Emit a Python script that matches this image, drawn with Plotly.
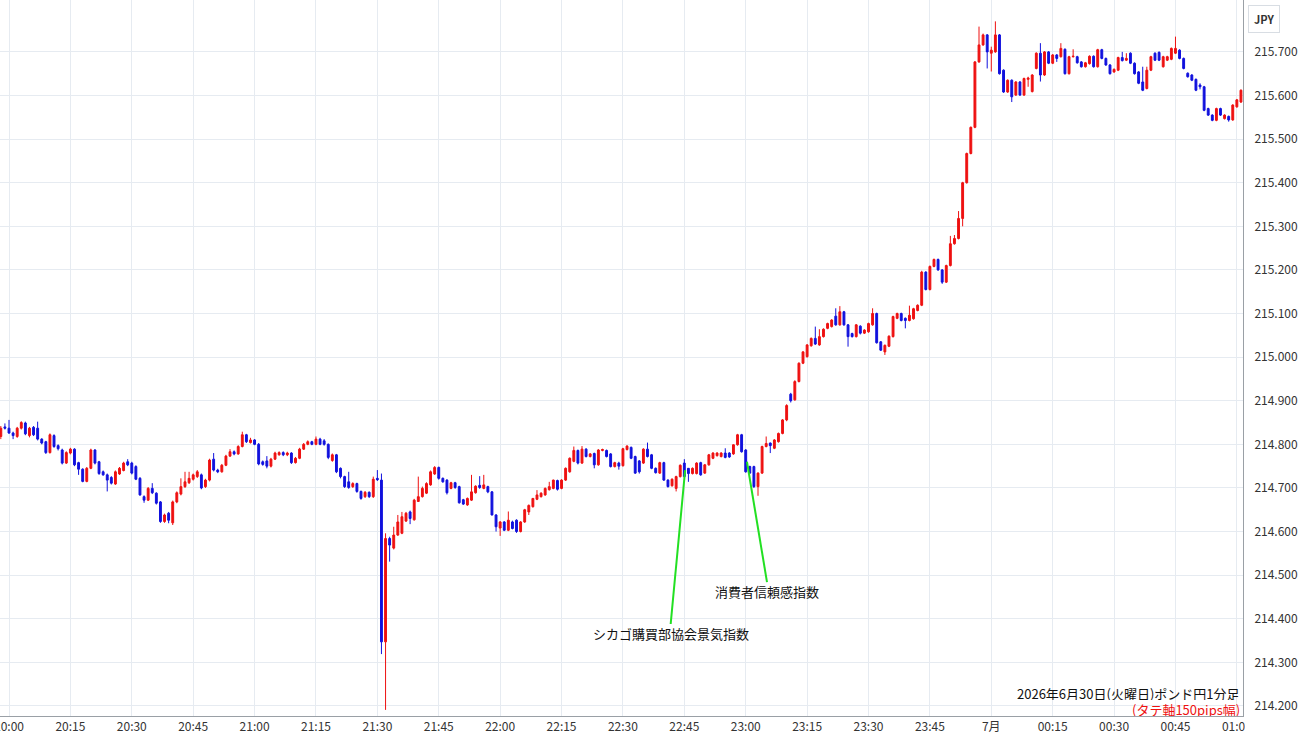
import pandas as pd
import plotly.graph_objects as go

# 1-minute candles, GBP/JPY, 2026-06-30 19:58 -> 2026-07-01 01:01
times = pd.date_range("2026-06-30 19:58", "2026-07-01 01:01", freq="1min")

open_ = [
214.818,214.840,214.837,214.826,214.818,214.837,214.849,214.820,214.839,214.837,
214.812,214.806,214.781,214.820,214.797,214.787,214.757,214.780,214.789,214.758,
214.743,214.715,214.745,214.787,214.760,214.737,214.730,214.724,214.709,214.732,
214.740,214.760,214.757,214.749,214.722,214.680,214.672,214.699,214.688,214.668,
214.623,214.642,214.620,214.668,214.686,214.703,214.712,214.720,214.726,214.730,
214.703,214.718,214.766,214.741,214.737,214.752,214.773,214.783,214.778,214.795,
214.822,214.804,214.810,214.800,214.760,214.762,214.750,214.766,214.776,214.781,
214.776,214.780,214.758,214.768,214.789,214.800,214.806,214.800,214.812,214.808,
214.800,214.763,214.776,214.745,214.726,214.714,214.703,214.710,214.692,214.680,
214.690,214.680,214.722,214.718,214.347,214.584,214.562,214.592,214.596,214.624,
214.645,214.627,214.669,214.680,214.688,214.707,214.732,214.747,214.722,214.718,
214.699,214.712,214.703,214.673,214.661,214.672,214.689,214.706,214.699,214.703,
214.691,214.638,214.608,214.622,214.603,214.622,214.626,214.600,214.622,214.645,
214.657,214.674,214.680,214.684,214.696,214.699,214.717,214.699,214.718,214.737,
214.761,214.786,214.757,214.789,214.772,214.779,214.753,214.786,214.786,214.778,
214.749,214.757,214.751,214.788,214.793,214.772,214.762,214.757,214.789,214.776,
214.745,214.734,214.758,214.718,214.705,214.699,214.726,214.757,214.745,214.733,
214.733,214.758,214.734,214.753,214.768,214.774,214.772,214.780,214.780,214.778,
214.799,214.822,214.787,214.749,214.749,214.703,214.734,214.795,214.803,214.791,
214.806,214.825,214.856,214.915,214.902,214.944,214.986,215.001,215.026,215.043,
215.028,215.047,215.066,215.070,215.094,215.074,215.104,215.074,215.054,215.047,
215.071,215.055,215.058,215.074,215.100,215.035,215.012,215.025,215.047,215.089,
215.100,215.089,215.084,215.088,215.107,215.119,215.195,215.155,215.208,215.224,
215.200,215.172,215.210,215.260,215.272,215.318,215.400,215.467,215.527,215.677,
215.716,215.739,215.697,215.700,215.739,215.658,215.608,215.635,215.601,215.631,
215.601,215.637,215.609,215.662,215.697,215.647,215.700,215.674,215.693,215.689,
215.706,215.650,215.689,215.689,215.677,215.666,215.673,215.690,215.666,215.705,
215.685,215.670,215.654,215.658,215.687,215.681,215.697,215.674,215.654,215.631,
215.616,215.658,215.697,215.699,215.666,215.681,215.683,215.697,215.704,215.685,
215.651,215.647,215.637,215.624,215.620,215.570,215.555,215.543,215.570,215.547,
215.552,215.544,215.574,215.585,
]
high = [
214.842,214.848,214.856,214.829,214.840,214.853,214.852,214.840,214.842,214.852,
214.814,214.808,214.825,214.823,214.800,214.790,214.784,214.792,214.791,214.760,
214.745,214.748,214.790,214.789,214.762,214.740,214.733,214.727,214.740,214.748,
214.760,214.766,214.760,214.752,214.725,214.683,214.702,214.711,214.690,214.670,
214.641,214.645,214.671,214.692,214.722,214.737,214.737,214.733,214.741,214.733,
214.721,214.767,214.780,214.744,214.755,214.776,214.789,214.786,214.798,214.829,
214.824,214.815,214.812,214.803,214.763,214.773,214.769,214.783,214.784,214.784,
214.783,214.782,214.771,214.792,214.803,214.809,214.808,214.818,214.815,214.812,
214.802,214.779,214.778,214.747,214.728,214.737,214.713,214.712,214.694,214.693,
214.692,214.726,214.741,214.733,214.596,214.588,214.611,214.638,214.645,214.645,
214.648,214.675,214.726,214.703,214.713,214.740,214.750,214.749,214.724,214.720,
214.714,214.714,214.705,214.675,214.678,214.730,214.706,214.727,214.730,214.705,
214.693,214.640,214.624,214.624,214.646,214.625,214.628,214.624,214.652,214.662,
214.677,214.695,214.690,214.701,214.714,214.719,214.719,214.720,214.747,214.770,
214.795,214.788,214.796,214.791,214.780,214.781,214.789,214.790,214.788,214.780,
214.760,214.760,214.792,214.798,214.795,214.774,214.764,214.791,214.804,214.778,
214.747,214.760,214.760,214.720,214.722,214.728,214.754,214.766,214.736,214.747,
214.759,214.760,214.755,214.778,214.782,214.782,214.782,214.791,214.782,214.800,
214.824,214.824,214.789,214.751,214.751,214.736,214.797,214.818,214.804,214.812,
214.827,214.858,214.892,214.918,214.947,214.988,215.014,215.030,215.045,215.070,
215.064,215.066,215.079,215.087,215.112,215.117,215.106,215.076,215.056,215.076,
215.073,215.064,215.079,215.112,215.102,215.037,215.029,215.050,215.095,215.102,
215.102,215.091,215.118,215.113,215.121,215.198,215.197,215.210,215.226,215.226,
215.202,215.212,215.278,215.280,215.335,215.402,215.469,215.529,215.679,215.758,
215.742,215.741,215.712,215.770,215.741,215.660,215.637,215.637,215.633,215.633,
215.641,215.643,215.649,215.699,215.720,215.702,215.702,215.695,215.695,215.720,
215.708,215.691,215.706,215.691,215.679,215.677,215.692,215.692,215.707,215.707,
215.687,215.672,215.662,215.689,215.700,215.697,215.699,215.676,215.656,215.666,
215.666,215.691,215.699,215.701,215.691,215.691,215.710,215.735,215.706,215.687,
215.653,215.649,215.639,215.628,215.622,215.572,215.557,215.572,215.572,215.557,
215.554,215.580,215.592,215.614,
]
low = [
214.812,214.834,214.824,214.812,214.815,214.834,214.821,214.816,214.819,214.809,
214.800,214.778,214.779,214.792,214.786,214.754,214.755,214.777,214.750,214.730,
214.713,214.713,214.743,214.754,214.730,214.728,214.692,214.708,214.707,214.730,
214.738,214.750,214.731,214.718,214.682,214.666,214.670,214.686,214.662,214.620,
214.620,214.619,214.615,214.665,214.683,214.700,214.709,214.717,214.723,214.697,
214.700,214.715,214.738,214.734,214.735,214.750,214.771,214.775,214.776,214.793,
214.803,214.802,214.798,214.752,214.751,214.745,214.747,214.764,214.774,214.773,
214.773,214.755,214.756,214.766,214.787,214.798,214.798,214.798,214.798,214.797,
214.766,214.760,214.734,214.722,214.700,214.698,214.700,214.689,214.673,214.677,
214.677,214.677,214.716,214.319,214.191,214.531,214.559,214.590,214.594,214.622,
214.617,214.625,214.668,214.678,214.686,214.705,214.730,214.719,214.712,214.685,
214.697,214.698,214.664,214.661,214.659,214.670,214.687,214.698,214.697,214.688,
214.637,214.600,214.590,214.601,214.601,214.605,214.597,214.598,214.620,214.638,
214.655,214.672,214.678,214.682,214.694,214.697,214.694,214.697,214.716,214.735,
214.759,214.754,214.755,214.770,214.770,214.745,214.751,214.784,214.770,214.747,
214.747,214.742,214.749,214.786,214.766,214.732,214.733,214.755,214.770,214.743,
214.733,214.732,214.716,214.701,214.703,214.692,214.724,214.724,214.714,214.731,
214.731,214.728,214.732,214.751,214.766,214.772,214.770,214.768,214.769,214.776,
214.797,214.781,214.735,214.732,214.700,214.682,214.732,214.793,214.780,214.789,
214.804,214.823,214.853,214.896,214.900,214.942,214.984,214.999,215.024,215.028,
215.026,215.045,215.064,215.068,215.072,215.072,215.072,215.024,215.045,215.045,
215.052,215.053,215.056,215.072,215.031,215.014,215.005,215.023,215.045,215.087,
215.082,215.066,215.082,215.086,215.105,215.117,215.153,215.153,215.206,215.198,
215.168,215.170,215.208,215.258,215.270,215.300,215.398,215.465,215.525,215.675,
215.714,215.662,215.655,215.698,215.648,215.606,215.606,215.585,215.599,215.599,
215.599,215.620,215.607,215.660,215.632,215.645,215.672,215.672,215.677,215.687,
215.648,215.648,215.687,215.673,215.664,215.664,215.671,215.664,215.664,215.683,
215.668,215.648,215.652,215.656,215.678,215.679,215.672,215.648,215.626,215.610,
215.614,215.656,215.679,215.679,215.664,215.679,215.681,215.695,215.683,215.660,
215.641,215.633,215.610,215.614,215.564,215.553,215.541,215.541,215.553,215.545,
215.540,215.542,215.572,215.583,
]
close = [
214.837,214.837,214.826,214.820,214.837,214.850,214.824,214.837,214.822,214.812,
214.803,214.781,214.822,214.795,214.790,214.757,214.781,214.789,214.753,214.743,
214.715,214.745,214.787,214.757,214.733,214.730,214.718,214.711,214.737,214.745,
214.757,214.753,214.734,214.720,214.684,214.672,214.699,214.689,214.665,214.623,
214.638,214.626,214.668,214.689,214.703,214.714,214.722,214.730,214.737,214.700,
214.718,214.764,214.741,214.737,214.752,214.773,214.783,214.778,214.795,214.822,
214.806,214.810,214.800,214.755,214.754,214.750,214.766,214.780,214.781,214.776,
214.780,214.758,214.768,214.789,214.800,214.806,214.800,214.812,214.800,214.800,
214.770,214.776,214.737,214.726,214.703,214.701,214.710,214.692,214.676,214.690,
214.680,214.720,214.719,214.347,214.584,214.569,214.592,214.622,214.634,214.642,
214.630,214.672,214.680,214.699,214.710,214.737,214.747,214.722,214.714,214.689,
214.712,214.701,214.666,214.663,214.676,214.691,214.704,214.701,214.707,214.691,
214.638,214.611,214.622,214.603,214.626,214.607,214.600,214.622,214.650,214.660,
214.676,214.684,214.688,214.699,214.703,214.718,214.697,214.718,214.745,214.768,
214.786,214.757,214.789,214.772,214.778,214.753,214.787,214.788,214.772,214.749,
214.758,214.750,214.790,214.796,214.768,214.734,214.737,214.789,214.772,214.745,
214.735,214.758,214.718,214.703,214.720,214.726,214.752,214.726,214.733,214.745,
214.757,214.730,214.753,214.776,214.780,214.780,214.780,214.770,214.771,214.799,
214.822,214.783,214.737,214.734,214.703,214.734,214.795,214.802,214.797,214.810,
214.825,214.856,214.889,214.900,214.944,214.986,215.012,215.028,215.043,215.030,
215.047,215.064,215.077,215.085,215.074,215.104,215.074,215.047,215.047,215.074,
215.055,215.062,215.077,215.100,215.033,215.016,215.027,215.048,215.093,215.100,
215.084,215.084,215.096,215.111,215.119,215.195,215.155,215.208,215.224,215.200,
215.172,215.210,215.260,215.272,215.318,215.400,215.467,215.527,215.677,215.716,
215.739,215.700,215.704,215.739,215.650,215.608,215.635,215.597,215.631,215.601,
215.639,215.640,215.647,215.697,215.647,215.700,215.674,215.693,215.685,215.708,
215.650,215.689,215.690,215.675,215.666,215.675,215.690,215.666,215.705,215.685,
215.670,215.650,215.660,215.687,215.680,215.685,215.674,215.650,215.628,215.612,
215.658,215.689,215.681,215.681,215.689,215.689,215.708,215.708,215.685,215.662,
215.643,215.635,215.612,215.620,215.566,215.555,215.543,215.570,215.555,215.555,
215.544,215.578,215.590,215.612,
]

tick_times = pd.date_range("2026-06-30 20:00", "2026-07-01 01:00", freq="15min")
tick_labels = ["20:00", "20:15", "20:30", "20:45", "21:00", "21:15", "21:30", "21:45",
               "22:00", "22:15", "22:30", "22:45", "23:00", "23:15", "23:30", "23:45",
               "7月", "00:15", "00:30", "00:45", "01:00"]
price_ticks = [214.2, 214.3, 214.4, 214.5, 214.6, 214.7, 214.8, 214.9,
               215.0, 215.1, 215.2, 215.3, 215.4, 215.5, 215.6, 215.7]

# event markers: (label, line top time, line top price, line bottom time, line bottom price)
events = [
    ("シカゴ購買部協会景気指数", "2026-06-30 22:45:12", 214.741, "2026-06-30 22:41:40", 214.388),
    ("消費者信頼感指数", "2026-06-30 23:00:18", 214.760, "2026-06-30 23:05:12", 214.484),
]

RED = "#ee1111"
BLUE = "#1111dd"
FONT = "Noto Sans CJK JP"

fig = go.Figure()
fig.add_trace(go.Candlestick(
    x=times, open=open_, high=high, low=low, close=close,
    increasing=dict(line=dict(color=RED, width=1), fillcolor=RED),
    decreasing=dict(line=dict(color=BLUE, width=1), fillcolor=BLUE),
    whiskerwidth=0, hoverinfo="skip", showlegend=False,
))

for label, t0, p0, t1, p1 in events:
    fig.add_shape(type="line", x0=t0, y0=p0, x1=t1, y1=p1, xref="x", yref="y",
                  line=dict(color="#22e022", width=2))
    fig.add_annotation(x=t1, y=p1, text=label, showarrow=False, xref="x", yref="y",
                       yanchor="top", yshift=2,
                       font=dict(family=FONT, size=13, color="#111111"))

# caption lines, bottom right of the plot area
fig.add_annotation(xref="paper", yref="paper", x=1.0, y=0.0315, xanchor="right", yanchor="middle",
                   xshift=-2, text="2026年6月30日(火曜日)ポンド円1分足", showarrow=False,
                   height=14, valign="middle",
                   font=dict(family=FONT, size=13, color="#111111"), borderpad=0)
fig.add_annotation(xref="paper", yref="paper", x=1.0, y=0.0095, xanchor="right", yanchor="middle",
                   xshift=-2, text="(タテ軸150pips幅)", showarrow=False,
                   height=13, valign="middle",
                   font=dict(family=FONT, size=13, color="#ee1111"), borderpad=0)
fig.add_annotation(xref="paper", yref="paper", x=1.0, y=1.0, xanchor="left", yanchor="top",
                   xshift=5, yshift=-5, text="<b>JPY</b>", showarrow=False,
                   font=dict(family=FONT, size=11, color="#333333"),
                   bordercolor="#d8dde3", borderwidth=1, borderpad=5, bgcolor="white")

# mask the part of the last time label that runs past the price-axis line
fig.add_shape(type="rect", xref="paper", yref="paper", x0=1.0015, x1=1.06, y0=-0.045, y1=-0.002,
              line=dict(width=0), fillcolor="white", layer="above")

fig.update_layout(
    width=1300, height=745,
    margin=dict(l=0, r=57, t=0, b=29, autoexpand=False),
    paper_bgcolor="white", plot_bgcolor="white",
    boxgap=0.35,
    font=dict(family=FONT, size=12, color="#333333"),
    xaxis=dict(
        range=["2026-06-30 19:57:48", "2026-07-01 01:01:30"],
        rangeslider=dict(visible=False),
        tickvals=list(tick_times), ticktext=tick_labels,
        ticklabeloverflow="allow", automargin=False,
        showgrid=True, gridcolor="#e6ebf1", gridwidth=1,
        showline=True, linecolor="#9aa0a6", linewidth=1,
        ticks="", tickfont=dict(family=FONT, size=12, color="#333333"),
        zeroline=False,
    ),
    yaxis=dict(
        range=[214.177, 215.819], side="right", automargin=False,
        tickvals=price_ticks, ticktext=[f"{v:.3f}" for v in price_ticks],
        showgrid=True, gridcolor="#e6ebf1", gridwidth=1,
        showline=True, linecolor="#9aa0a6", linewidth=1,
        ticks="", ticklabelstandoff=8,
        tickfont=dict(family=FONT, size=12, color="#333333"),
        zeroline=False,
    ),
)

fig.write_html("out.html")
